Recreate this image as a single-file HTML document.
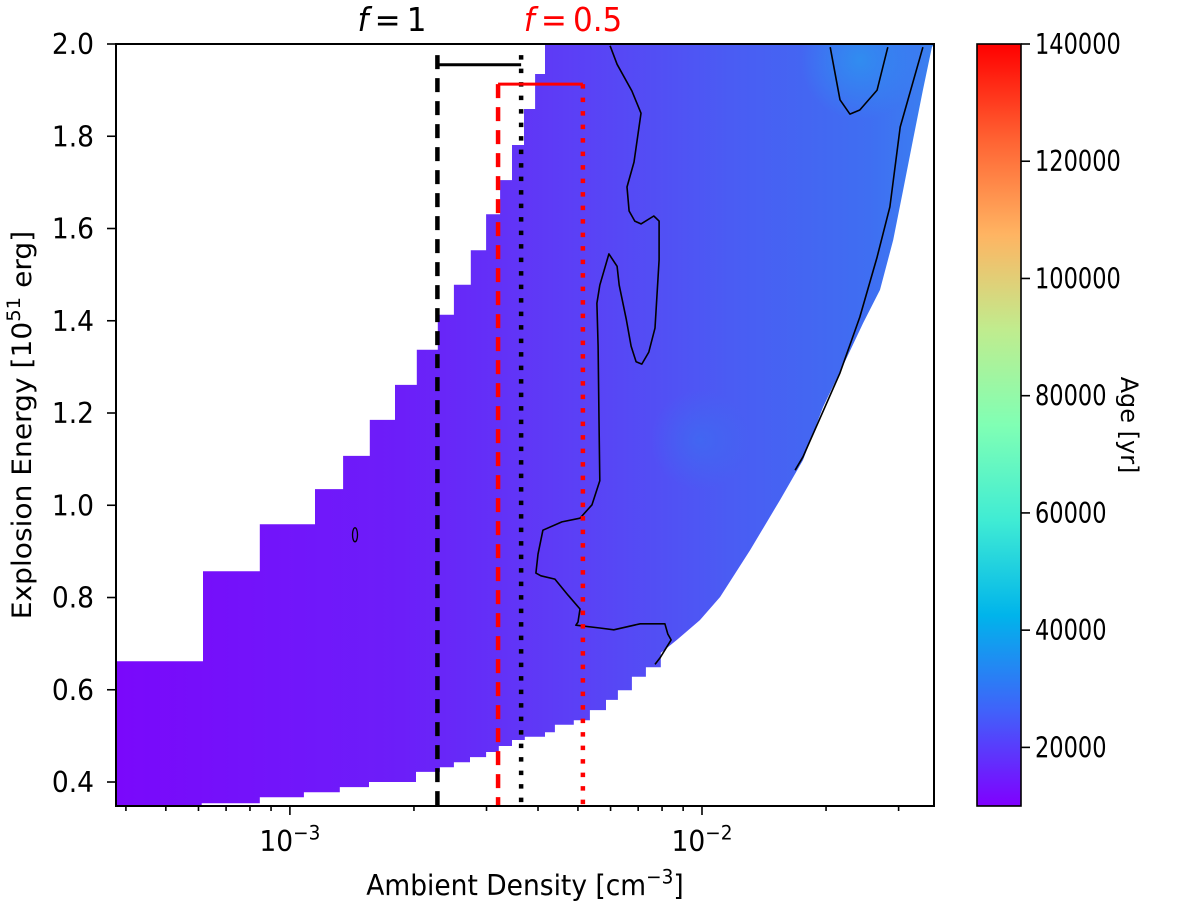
<!DOCTYPE html>
<html><head><meta charset="utf-8"><style>
html,body{margin:0;padding:0;background:#fff;}
svg{display:block;font-family:"DejaVu Sans","Liberation Sans",sans-serif;}
</style></head><body>
<svg id="chart" width="1200" height="905" viewBox="0 0 1200 905" xmlns="http://www.w3.org/2000/svg">
<defs>
<linearGradient id="fillGrad" x1="116" y1="0" x2="934" y2="0" gradientUnits="userSpaceOnUse">
<stop offset="0" stop-color="#7a08fb"/><stop offset="0.35" stop-color="#6c1ef9"/>
<stop offset="0.55" stop-color="#5c3ef6"/><stop offset="0.75" stop-color="#4a5cf3"/>
<stop offset="0.92" stop-color="#3f6ef2"/><stop offset="1" stop-color="#3a80f0"/>
</linearGradient>
<radialGradient id="blob1" cx="860" cy="60" r="60" gradientUnits="userSpaceOnUse"><stop offset="0" stop-color="#2f90f0" stop-opacity="0.9"/><stop offset="1" stop-color="#2f90f0" stop-opacity="0"/></radialGradient>
<radialGradient id="blob2" cx="700" cy="440" r="50" gradientUnits="userSpaceOnUse"><stop offset="0" stop-color="#3a70f0" stop-opacity="0.6"/><stop offset="1" stop-color="#3a70f0" stop-opacity="0"/></radialGradient>
<linearGradient id="cbGrad" x1="0" y1="1" x2="0" y2="0">
<stop offset="0" stop-color="#8000ff"/><stop offset="0.125" stop-color="#4062fa"/><stop offset="0.25" stop-color="#00b4eb"/>
<stop offset="0.375" stop-color="#40ecd4"/><stop offset="0.5" stop-color="#80ffb4"/><stop offset="0.625" stop-color="#c0ec8e"/>
<stop offset="0.75" stop-color="#ffb462"/><stop offset="0.875" stop-color="#ff6232"/><stop offset="1" stop-color="#ff0000"/>
</linearGradient>
<clipPath id="plotClip"><rect x="116" y="44" width="818" height="762"/></clipPath>
</defs>
<g id="plot" clip-path="url(#plotClip)"></g>
<g id="axes"></g>
</svg>
<script>
// ---- data ----
const stepLogN = [-3.422,-3.211,-3.073,-2.939,-2.871,-2.806,-2.745,-2.692,-2.641,-2.602,-2.561,-2.524,-2.490,-2.461,-2.432,-2.405,-2.381];
const stepTopE = [0.662,0.857,0.959,1.035,1.107,1.185,1.261,1.337,1.413,1.478,1.553,1.631,1.705,1.781,1.859,1.935,2.0];
const bottomLogN = [-3.422,-3.214,-3.073,-2.966,-2.879,-2.808,-2.694,-2.636,-2.602,-2.563,-2.524,-2.493,-2.461,-2.430,-2.381,-2.357,-2.311,-2.272,-2.233,-2.204,-2.170,-2.136,-2.100,-2.061,-2.005,-1.956,-1.883,-1.811,-1.755,-1.706,-1.648,-1.609,-1.568,-1.536,-1.512,-1.488,-1.464,-1.442,-1.437];
const bottomE = [0.348,0.354,0.367,0.378,0.389,0.400,0.422,0.432,0.443,0.454,0.465,0.478,0.491,0.498,0.508,0.524,0.534,0.556,0.578,0.599,0.628,0.649,0.680,0.708,0.751,0.801,0.903,1.011,1.098,1.213,1.321,1.395,1.467,1.575,1.683,1.792,1.900,1.993,2.0];
const contourALogN = [-2.223,-2.206,-2.170,-2.148,-2.165,-2.182,-2.177,-2.163,-2.148,-2.117,-2.104,-2.104,-2.114,-2.129,-2.146,-2.160,-2.172,-2.184,-2.201,-2.206,-2.226,-2.248,-2.255,-2.252,-2.250,-2.248,-2.267,-2.296,-2.340,-2.386,-2.398,-2.403,-2.391,-2.357,-2.325,-2.296,-2.301,-2.306,-2.248,-2.214,-2.150,-2.090,-2.083,-2.075,-2.102,-2.114];
const contourAE = [1.996,1.956,1.898,1.850,1.744,1.690,1.638,1.616,1.610,1.627,1.616,1.532,1.384,1.332,1.306,1.311,1.345,1.404,1.477,1.518,1.545,1.477,1.438,1.345,1.185,1.053,1.001,0.972,0.964,0.946,0.894,0.853,0.847,0.840,0.805,0.775,0.747,0.740,0.734,0.730,0.743,0.743,0.721,0.708,0.669,0.655];
const contourBLogN = [-1.689,-1.665,-1.641,-1.617,-1.575,-1.549];
const contourBE = [1.993,1.879,1.848,1.857,1.900,1.993];
const contourCLogN = [-1.464,-1.519,-1.544,-1.575,-1.617,-1.665,-1.755,-1.774];
const contourCE = [1.993,1.820,1.647,1.538,1.408,1.287,1.105,1.076];
const loopLogN = -2.842, loopE = 0.936;
const fLinesN = [0.00228, 0.00364, 0.0032, 0.00514];
const fLinesTop = [1.976, 1.976, 1.913, 1.913];
const barE = [1.955, 1.913];
const xTickExp = [-3, -2];
const yTicks = [0.4,0.6,0.8,1.0,1.2,1.4,1.6,1.8,2.0];
const cbTicks = [20000,40000,60000,80000,100000,120000,140000];
const cbMin = 10000, cbMax = 140000;

// ---- scales ----
const X0=116,X1=934,Y0=44,Y1=806;
const lxMin=-3.422, lxMax=-1.437, eMin=0.348, eMax=2.0;
const xs = lx => X0 + (lx-lxMin)/(lxMax-lxMin)*(X1-X0);
const xn = n => xs(Math.log10(n));
const ys = e => Y1 - (e-eMin)/(eMax-eMin)*(Y1-Y0);
const CB0=977,CB1=1021;
const cs = v => Y1 - (v-cbMin)/(cbMax-cbMin)*(Y1-Y0);
const NS="http://www.w3.org/2000/svg";
const SY=1.06, FS=26.5, SUP=18.5;
function mk(tag, attrs, parent){const e=document.createElementNS(NS,tag);for(const k in attrs)e.setAttribute(k,attrs[k]);parent.appendChild(e);return e;}
function txt(x,y,size,anchor,fill,rot,parent,sy){
  let tr='translate('+x+','+y+') scale(1,'+(sy||SY)+')'+(rot?' rotate('+rot+')':'');
  return mk('text',{x:0,y:0,'font-size':size,'text-anchor':anchor,fill:fill,transform:tr},parent);
}
const plot=document.getElementById('plot'), axes=document.getElementById('axes');

// region polygon
let pts=[];
for(let i=0;i<stepLogN.length;i++){
  const x=xs(stepLogN[i]);
  if(i===0) pts.push([x,ys(bottomE[0])]);
  else pts.push([x,ys(stepTopE[i-1])]);
  pts.push([x,ys(stepTopE[i])]);
}
for(let i=bottomLogN.length-1;i>=0;i--){
  const x=xs(bottomLogN[i]);
  if(i<=22 && i>0){ pts.push([x,ys(bottomE[i])]); pts.push([x,ys(bottomE[i-1])]); }
  else pts.push([x,ys(bottomE[i])]);
}
const ptsStr=pts.map(p=>p[0].toFixed(1)+','+p[1].toFixed(1)).join(' ');
const region=mk('polygon',{points:ptsStr,fill:'url(#fillGrad)'},plot);


const r2=mk('polygon',{points:ptsStr,fill:'url(#blob1)'},plot);


const r3=mk('polygon',{points:ptsStr,fill:'url(#blob2)'},plot);



function contour(ln,ee,name){
  const d=ln.map((v,i)=>(i?'L':'M')+xs(v).toFixed(1)+','+ys(ee[i]).toFixed(1)).join(' ');
  const p=mk('path',{d:d,fill:'none',stroke:'#000','stroke-width':1.6,'stroke-linejoin':'round'},plot);
  
  
}
contour(contourALogN,contourAE,'contour-main');
contour(contourBLogN,contourBE,'contour-top-right');
contour(contourCLogN,contourCE,'contour-edge');
const lp=mk('ellipse',{cx:xs(loopLogN),cy:ys(loopE),rx:2.5,ry:7,fill:'none',stroke:'#000','stroke-width':1.3},plot);



// f lines
const fStyles=[['#000','14,9','f1-lower-dashed'],['#000','4.5,9','f1-upper-dotted'],['#f00','14,9','f05-lower-dashed'],['#f00','4.5,9','f05-upper-dotted']];
for(let i=0;i<4;i++){
  const x=xn(fLinesN[i]);
  const l=mk('line',{x1:x,x2:x,y1:ys(fLinesTop[i]),y2:Y1,stroke:fStyles[i][0],'stroke-width':4.5,'stroke-dasharray':fStyles[i][1]},axes);
  
  
}
const b1=mk('line',{x1:xn(fLinesN[0]),x2:xn(fLinesN[1]),y1:ys(barE[0]),y2:ys(barE[0]),stroke:'#000','stroke-width':3},axes);


const b2=mk('line',{x1:xn(fLinesN[2]),x2:xn(fLinesN[3]),y1:ys(barE[1]),y2:ys(barE[1]),stroke:'#f00','stroke-width':3},axes);



// frame
const fr=mk('rect',{x:X0,y:Y0,width:X1-X0,height:Y1-Y0,fill:'none',stroke:'#000','stroke-width':2},axes);



// x ticks
for(let d=-4; d<=-2; d++){
  for(let m=1;m<10;m++){
    const lx=d+Math.log10(m);
    if(lx<lxMin||lx>lxMax) continue;
    const x=xs(lx), major=(m===1);
    const t=mk('line',{x1:x,x2:x,y1:Y1,y2:Y1+(major?9:5),stroke:'#000','stroke-width':1.6},axes);
    
    
  }
}
xTickExp.forEach(e=>{
  const t=txt(xs(e),851,FS,'middle','#000',0,axes);
  
  
  t.innerHTML='10<tspan dy="-11" font-size="'+SUP+'">\u2212'+Math.abs(e)+'</tspan>';
});
// y ticks
yTicks.forEach(v=>{
  const y=ys(v);
  const t=mk('line',{x1:X0-9,x2:X0,y1:y,y2:y,stroke:'#000','stroke-width':1.6},axes);
  
  
  const l=txt(X0-22,y+10,FS,'end','#000',0,axes);
  
  
  l.textContent=v.toFixed(1);
});
// axis titles
const xt=txt(525,895,FS,'middle','#000',0,axes);


xt.innerHTML='Ambient Density [cm<tspan dy="-11" font-size="'+SUP+'">\u22123</tspan><tspan dy="11">]</tspan>';
const yt=txt(31,425,FS,'middle','#000',-90,axes);


yt.innerHTML='Explosion Energy [10<tspan dy="-11" font-size="'+SUP+'">51</tspan><tspan dy="11"> erg]</tspan>';
// f labels
const f1=txt(392,31,31,'middle','#000',0,axes);


f1.innerHTML='<tspan font-style="italic">f</tspan>\u2009=\u20091';
const f2=txt(573,31,31,'middle','#f00',0,axes);


f2.innerHTML='<tspan font-style="italic">f</tspan>\u2009=\u20090.5';

// colorbar
const cb=mk('rect',{x:CB0,y:Y0,width:CB1-CB0,height:Y1-Y0,fill:'url(#cbGrad)',stroke:'#000','stroke-width':1.6},axes);


cbTicks.forEach(v=>{
  const y=cs(v);
  const t=mk('line',{x1:CB1,x2:CB1+9,y1:y,y2:y,stroke:'#000','stroke-width':1.6},axes);
  
  
  const l=txt(CB1+14,y+10,22.5,'start','#000',0,axes,1.25);
  
  
  l.textContent=String(v);
});
const ct=txt(1121,425,24,'middle','#000',90,axes,1.0);


ct.textContent='Age [yr]';
</script>
</body></html>
